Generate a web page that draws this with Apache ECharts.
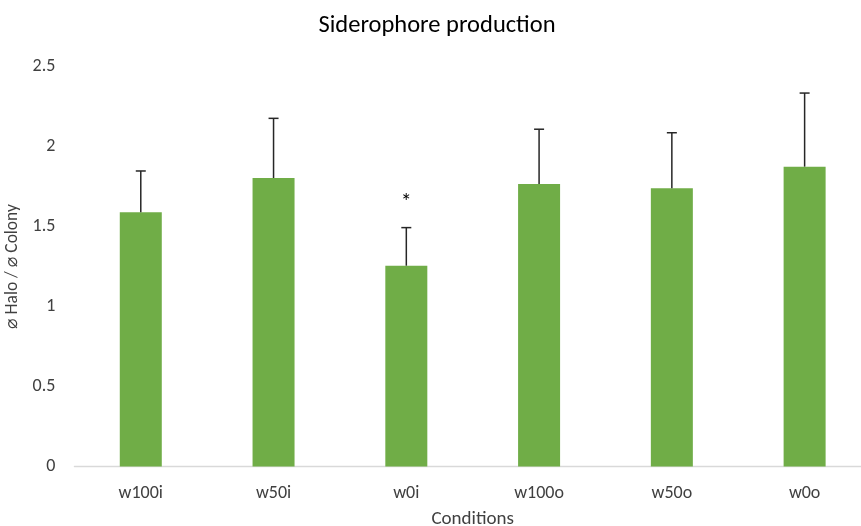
<!DOCTYPE html>
<html><head><meta charset="utf-8">
<script src="https://cdn.jsdelivr.net/npm/echarts@6/dist/echarts.min.js"></script>
<style>html,body{margin:0;padding:0;background:#fff}#c{width:861px;height:526px}</style>
</head><body><div id="c"></div>
<script>
const categories = ['w100i', 'w50i', 'w0i', 'w100o', 'w50o', 'w0o'];
const means = [1.589, 1.803, 1.255, 1.766, 1.739, 1.874];
const errors = [0.258, 0.373, 0.238, 0.342, 0.347, 0.460];
const marks = ['', '', '*', '', '', ''];
const yTicks = [0, 0.5, 1, 1.5, 2, 2.5];

const FONT = 'Carlito, "Open Sans", "Noto Sans", "DejaVu Sans", sans-serif';
const chart = echarts.init(document.getElementById('c'));
chart.setOption({
  animation: false,
  backgroundColor: '#fff',
  title: {
    text: 'Siderophore production', left: 432, top: 8, textAlign: 'center',
    textStyle: { fontFamily: FONT, fontSize: 24.5, fontWeight: 'normal', color: '#000' }
  },
  grid: { left: 74.4, right: -10, top: 66.5, bottom: 59.5, containLabel: false, outerBoundsMode: 'none' },
  xAxis: {
    type: 'category', data: categories,
    name: 'Conditions', nameLocation: 'middle', nameGap: 43,
    nameTextStyle: { fontFamily: FONT, fontSize: 19, color: '#404040' },
    axisLine: { lineStyle: { color: '#d9d9d9', width: 1.3 } },
    axisTick: { show: false },
    axisLabel: { fontFamily: FONT, fontSize: 18, color: '#404040', margin: 18 }
  },
  yAxis: {
    type: 'value', min: yTicks[0], max: yTicks[yTicks.length - 1], interval: 0.5,
    name: '\u2300 Halo / \u2300 Colony', nameLocation: 'middle', nameGap: 49,
    nameTextStyle: { fontFamily: FONT, fontSize: 17.5, color: '#404040' },
    axisLine: { show: false }, axisTick: { show: false },
    splitLine: { show: false },
    axisLabel: { fontFamily: FONT, fontSize: 18, color: '#404040', margin: 19 }
  },
  series: [
    {
      type: 'bar', data: means, barWidth: 42,
      itemStyle: { color: '#70ad47' }
    },
    {
      type: 'custom',
      data: means.map((m, i) => [i, m, m + errors[i], marks[i]]),
      renderItem: function (params, api) {
        const x = api.value(0);
        const lo = api.coord([x, api.value(1)]);
        const hi = api.coord([x, api.value(2)]);
        const cap = 5;
        const style = { stroke: '#262626', lineWidth: 1.5 };
        const children = [
          { type: 'line', shape: { x1: lo[0], y1: lo[1], x2: hi[0], y2: hi[1] }, style: style },
          { type: 'line', shape: { x1: hi[0] - cap, y1: hi[1], x2: hi[0] + cap, y2: hi[1] }, style: style }
        ];
        const mk = marks[params.dataIndex];
        if (mk) {
          children.push({ type: 'text', x: hi[0], y: hi[1] - 24,
            style: { text: mk, fill: '#000', fontSize: 22, fontFamily: FONT, align: 'center', verticalAlign: 'middle' } });
        }
        return { type: 'group', children: children };
      },
      z: 5
    }
  ]
});
</script></body></html>
